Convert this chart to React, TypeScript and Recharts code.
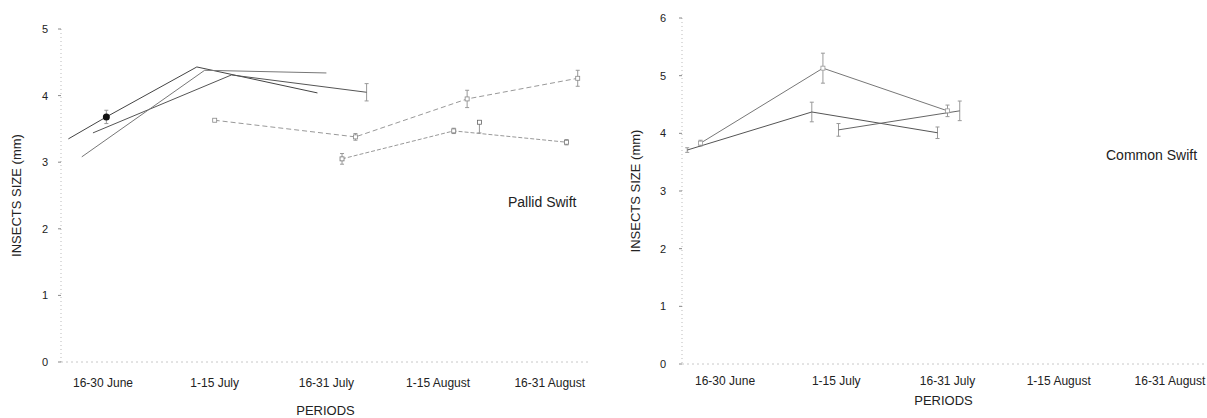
import { LineChart, Line, XAxis, YAxis, ErrorBar, Label } from 'recharts'

// x positions are in "period" units: 1 = 16-30 June ... 5 = 16-31 August
const periods = ['16-30 June', '1-15 July', '16-31 July', '1-15 August', '16-31 August']
const periodTicks = [1, 2, 3, 4, 5]

// Pallid Swift panel
const pallidYTicks = [0, 1, 2, 3, 4, 5]
const pallidTickMarks = [0.87, 1.98, 3.14, 4.28, 5.23]
const pallidAX = [0.69, 1.03, 1.84, 2.92]
const pallidAY = [3.35, 3.68, 4.43, 4.04]
const pallidAErr = [0, 0.1, 0, 0]
const pallidBX = [0.91, 2.15, 3.36]
const pallidBY = [3.44, 4.31, 4.05]
const pallidBErr = [0, 0, 0.13]
const pallidCX = [0.81, 1.91, 3.0]
const pallidCY = [3.08, 4.38, 4.34]
const pallidCErr = [0, 0, 0]
const pallidDX = [2.0, 3.26, 4.26, 5.25]
const pallidDY = [3.63, 3.38, 3.95, 4.26]
const pallidDErr = [0, 0.05, 0.13, 0.12]
const pallidEX = [3.14, 4.14, 5.15]
const pallidEY = [3.05, 3.47, 3.3]
const pallidEErr = [0.08, 0.04, 0.04]
const pallidFX = [4.37]
const pallidFY = [3.6]
const pallidFErr = [[0.16, 0]]

// Common Swift panel
const commonYTicks = [0, 1, 2, 3, 4, 5, 6]
const commonTickMarks = [0.8, 1.91, 3.03]
const commonAX = [0.78, 1.88, 3.0]
const commonAY = [3.83, 5.13, 4.39]
const commonAErr = [0.05, 0.26, 0.1]
const commonBX = [0.66, 1.78, 2.91]
const commonBY = [3.71, 4.37, 4.01]
const commonBErr = [0.04, 0.17, 0.1]
const commonCX = [2.02, 3.11]
const commonCY = [4.06, 4.39]
const commonCErr = [0.11, 0.17]

const rows = (xs: number[], ys: number[], errs: any[]) =>
  xs.map((x, i) => ({ x, y: ys[i], err: errs[i] }))

const FONT = '"Liberation Sans", Arial, sans-serif'
const INK = '#222'

const openDot = (stroke: string) => (p: any) => (
  <rect key={p.index} x={p.cx - 2} y={p.cy - 2} width={4} height={4}
    fill="#fff" stroke={stroke} strokeWidth={0.8} />
)
const filledAt = (idx: number) => (p: any) =>
  p.index === idx
    ? <circle key={p.index} cx={p.cx} cy={p.cy} r={3.5} fill="#111" />
    : <g key={p.index} />

interface Series {
  id: string
  data: { x: number; y: number; err: any }[]
  stroke: string
  dash?: string
  dot: any
}

const pallidSeries: Series[] = [
  { id: 'a', data: rows(pallidAX, pallidAY, pallidAErr), stroke: '#444', dot: filledAt(1) },
  { id: 'b', data: rows(pallidBX, pallidBY, pallidBErr), stroke: '#555', dot: false },
  { id: 'c', data: rows(pallidCX, pallidCY, pallidCErr), stroke: '#777', dot: false },
  { id: 'd', data: rows(pallidDX, pallidDY, pallidDErr), stroke: '#999', dash: '5 3', dot: openDot('#888') },
  { id: 'e', data: rows(pallidEX, pallidEY, pallidEErr), stroke: '#999', dash: '4 2', dot: openDot('#777') },
  { id: 'f', data: rows(pallidFX, pallidFY, pallidFErr), stroke: '#888', dot: openDot('#666') },
]

const commonSeries: Series[] = [
  { id: 'a', data: rows(commonAX, commonAY, commonAErr), stroke: '#777', dot: openDot('#999') },
  { id: 'b', data: rows(commonBX, commonBY, commonBErr), stroke: '#555', dot: false },
  { id: 'c', data: rows(commonCX, commonCY, commonCErr), stroke: '#666', dot: false },
]

interface PanelProps {
  left: number
  width: number
  margin: { top: number; right: number; left: number; bottom: number }
  yWidth: number
  yTicks: number[]
  tickMarks: number[]
  domain: [number, number]
  labelAxisHeight: number
  labelMargin: number
  periodsOffset: number
  yLabelOffset: number
  series: Series[]
}

function Panel(p: PanelProps) {
  return (
    <div style={{ position: 'absolute', left: p.left, top: 0 }}>
      <LineChart width={p.width} height={418} margin={p.margin}>
        {/* numeric id 0 keeps this thin axis next to the plot */}
        <XAxis
          xAxisId={0} type="number" dataKey="x" domain={p.domain} allowDataOverflow
          ticks={p.tickMarks} tick={false} height={1} tickSize={4}
          axisLine={{ stroke: '#c8c8c8', strokeDasharray: '2 3' }}
          tickLine={{ stroke: '#888' }}
        />
        <XAxis
          xAxisId="labels" type="number" dataKey="x" domain={p.domain} allowDataOverflow
          ticks={periodTicks} tickFormatter={(v: number) => periods[v - 1]}
          height={p.labelAxisHeight} axisLine={false} tickLine={false}
          tickMargin={p.labelMargin} interval={0}
          tick={{ fill: INK, fontSize: 12, fontFamily: FONT }}
        >
          <Label value="PERIODS" position="insideBottom" offset={p.periodsOffset}
            style={{ fill: INK, fontSize: 13, fontFamily: FONT }} />
        </XAxis>
        <YAxis
          type="number" domain={[p.yTicks[0], p.yTicks[p.yTicks.length - 1]]} ticks={p.yTicks}
          width={p.yWidth} tickSize={3} tickMargin={p.yWidth > 70 ? 13 : 10}
          axisLine={{ stroke: '#bbb', strokeDasharray: '1 3' }}
          tickLine={{ stroke: '#888' }}
          tick={{ fill: INK, fontSize: 11, fontFamily: FONT }}
        >
          <Label value="INSECTS SIZE (mm)" angle={-90} position="insideLeft" offset={p.yLabelOffset}
            style={{ fill: INK, fontSize: 13, fontFamily: FONT, textAnchor: 'middle' }} />
        </YAxis>
        {p.series.map(s => (
          <Line
            key={s.id} xAxisId={0} data={s.data} dataKey="y" type="linear"
            stroke={s.stroke} strokeWidth={1} strokeDasharray={s.dash}
            dot={s.dot} activeDot={false} isAnimationActive={false}
          >
            <ErrorBar dataKey="err" direction="y" width={2} stroke="#999" strokeWidth={1} />
          </Line>
        ))}
      </LineChart>
    </div>
  )
}

const titleStyle = { position: 'absolute' as const, fontFamily: FONT, fontSize: 14, lineHeight: '14px', color: INK, whiteSpace: 'nowrap' as const }

export default function App() {
  return (
    <div style={{ position: 'absolute', left: 0, top: 0, width: 1207, height: 418, background: '#fff', overflow: 'hidden' }}>
      <Panel
        left={0} width={600}
        margin={{ top: 29, right: 10, left: 0, bottom: 0 }}
        yWidth={61} yTicks={pallidYTicks} tickMarks={pallidTickMarks}
        domain={[0.624, 5.36]} labelAxisHeight={55} labelMargin={9}
        periodsOffset={3} yLabelOffset={16} series={pallidSeries}
      />
      <Panel
        left={600} width={607}
        margin={{ top: 18, right: 2, left: 0, bottom: 0 }}
        yWidth={82} yTicks={commonYTicks} tickMarks={commonTickMarks}
        domain={[0.613, 5.315]} labelAxisHeight={53} labelMargin={5}
        periodsOffset={13} yLabelOffset={35} series={commonSeries}
      />
      <div style={{ ...titleStyle, left: 508, top: 195 }}>Pallid Swift</div>
      <div style={{ ...titleStyle, left: 1106, top: 148 }}>Common Swift</div>
    </div>
  )
}
